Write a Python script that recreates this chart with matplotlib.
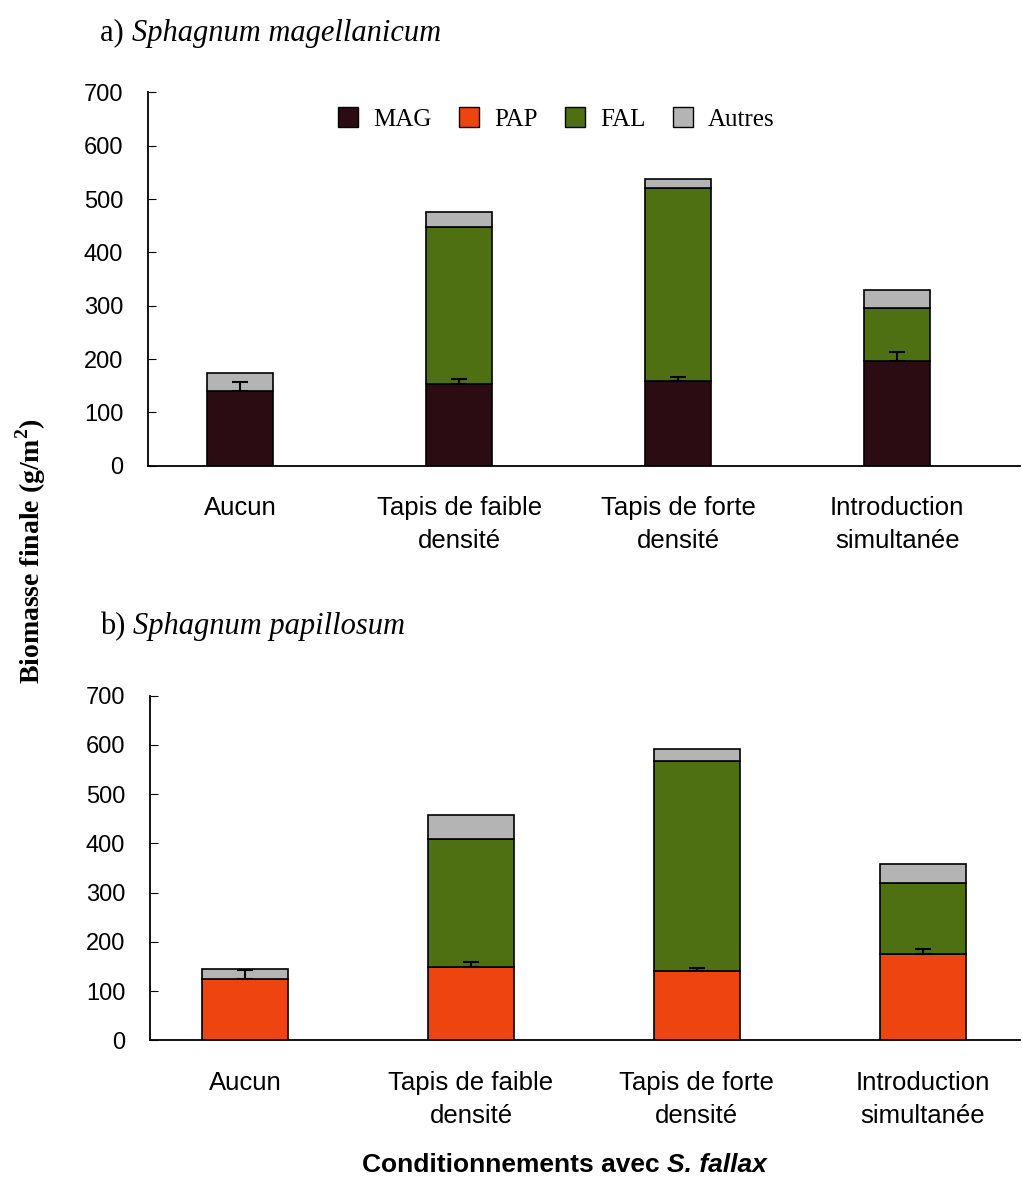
"""Stacked biomass bars for S. magellanicum and S. papillosum."""

import matplotlib.pyplot as plt
import numpy as np

categories = ["Aucun", "Tapis de faible\ndensité", "Tapis de forte\ndensité",
              "Introduction\nsimultanée"]

# a) Sphagnum magellanicum
mag_target = [140, 154, 158, 197]
mag_target_err = [17, 9, 9, 16]
mag_fal = [0, 293, 362, 98]
mag_autres = [34, 28, 17, 35]

# b) Sphagnum papillosum
pap_target = [124, 150, 140, 175]
pap_target_err = [18, 9, 7, 10]
pap_fal = [0, 259, 428, 145]
pap_autres = [22, 49, 24, 38]

COLORS = {"MAG": "#2b0c12", "PAP": "#ee4410", "FAL": "#4e7012", "Autres": "#b4b4b4"}
SERIF = "Liberation Serif"
SANS = "Liberation Sans"

plt.rcParams["font.family"] = SANS


def draw_panel(ax, target, err, fal, autres, target_name, width, xlim):
    x = np.arange(len(categories))
    target = np.array(target)
    fal = np.array(fal)
    kw = dict(width=width, edgecolor="black", linewidth=1.2)
    ax.bar(x, target, color=COLORS[target_name], **kw)
    ax.bar(x, fal, bottom=target, color=COLORS["FAL"], **kw)
    ax.bar(x, autres, bottom=target + fal, color=COLORS["Autres"], **kw)
    ax.errorbar(x, target, yerr=[np.zeros(len(x)), err], fmt="none",
                ecolor="black", elinewidth=1.5, capsize=6, capthick=1.5)

    ax.set_xlim(*xlim)
    ax.set_ylim(0, 700)
    ax.set_yticks(range(0, 701, 100))
    ax.set_xticks(x)
    ax.set_xticklabels(categories, fontsize=18.5, linespacing=1.45)
    ax.tick_params(axis="x", length=0, pad=22)
    ax.tick_params(axis="y", direction="in", length=6, labelsize=17, pad=18)
    for side in ("top", "right"):
        ax.spines[side].set_visible(False)
    for side in ("left", "bottom"):
        ax.spines[side].set_linewidth(1.3)


def text_run(fig, x, y, parts, **common):
    """Draw consecutive text pieces side by side, in figure coordinates."""
    renderer = fig.canvas.get_renderer()
    for content, extra in parts:
        t = fig.text(x, y, content, ha="left", va="center", **common, **extra)
        bbox = t.get_window_extent(renderer=renderer)
        x = fig.transFigure.inverted().transform((bbox.x1, bbox.y0))[0]
    return x


fig = plt.figure(figsize=(10.22, 11.85), dpi=100)
ax_a = fig.add_axes([0.145, 0.607, 0.853, 0.315])
ax_b = fig.add_axes([0.147, 0.122, 0.851, 0.291])

draw_panel(ax_a, mag_target, mag_target_err, mag_fal, mag_autres, "MAG", 0.3,
           (-0.42, 3.56))
draw_panel(ax_b, pap_target, pap_target_err, pap_fal, pap_autres, "PAP", 0.38,
           (-0.42, 3.43))

handles = [plt.Rectangle((0, 0), 1, 1, facecolor=COLORS[k], edgecolor="black")
           for k in ("MAG", "PAP", "FAL", "Autres")]
ax_a.legend(handles, ["MAG", "PAP", "FAL", "Autres"], loc="upper center",
            bbox_to_anchor=(0.468, 1.02), ncol=4, frameon=False,
            prop={"family": SERIF, "size": 18}, handlelength=0.8,
            handleheight=0.8, columnspacing=1.1, handletextpad=0.6)

text_run(fig, 0.098, 0.972, [("a) ", {}), ("Sphagnum magellanicum", {"style": "italic"})],
         family=SERIF, fontsize=22)
text_run(fig, 0.098, 0.471, [("b) ", {}), ("Sphagnum papillosum", {"style": "italic"})],
         family=SERIF, fontsize=22)

fig.text(0.03, 0.535, "Biomasse finale (g/m$^\\mathregular{2}$)", family=SERIF,
         fontweight="bold", fontsize=20, rotation=90, va="center", ha="center")

# centre the x label run around the middle of the plotting area
probe = fig.text(0, 0, "Conditionnements avec S. fallax", family=SANS,
                 fontweight="bold", fontsize=19)
w = probe.get_window_extent(renderer=fig.canvas.get_renderer()).width / fig.bbox.width
probe.remove()
text_run(fig, 0.552 - w / 2, 0.017,
         [("Conditionnements avec ", {}), ("S. fallax", {"style": "italic"})],
         family=SANS, fontweight="bold", fontsize=19)

fig.savefig("out.png", dpi=100)
plt.close(fig)
